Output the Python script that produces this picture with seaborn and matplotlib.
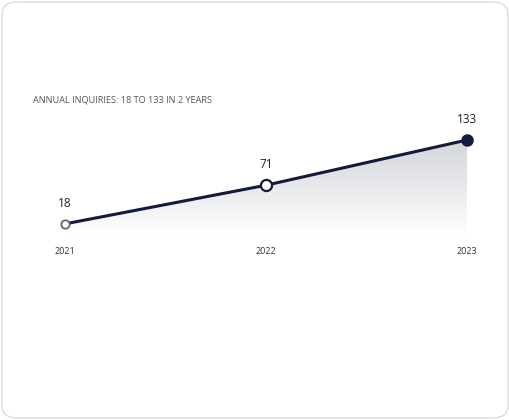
import numpy as np
import pandas as pd
import matplotlib
matplotlib.use("Agg")
import matplotlib.pyplot as plt
import seaborn as sns
from matplotlib.patches import FancyBboxPatch, Polygon
from matplotlib.colors import LinearSegmentedColormap

years = ["2021", "2022", "2023"]
inquiries = [18, 71, 133]
title = "ANNUAL INQUIRIES: 18 TO 133 IN 2 YEARS"

NAVY = "#141a3a"

sns.set_theme(style="white")
plt.rcParams["font.family"] = ["Open Sans", "DejaVu Sans"]

fig = plt.figure(figsize=(5.1, 4.2), dpi=100)
card = FancyBboxPatch((2 / 510, 2 / 420), 506 / 510, 416 / 420,
                      boxstyle="round,pad=0,rounding_size=0.03",
                      transform=fig.transFigure, facecolor="white",
                      edgecolor="#dcdcdc", linewidth=1, zorder=-10)
fig.patches.append(card)

ax = fig.add_axes([65 / 510, 183 / 420, 402 / 510, 97 / 420])
ax.patch.set_alpha(0)

df = pd.DataFrame({"x": range(len(years)), "y": inquiries})

# gradient fill below the line
cmap = LinearSegmentedColormap.from_list("g", ["#ffffff", "#d4d5da"])
grad = np.linspace(0, 1, 256).reshape(-1, 1)
img = ax.imshow(grad, cmap=cmap, origin="lower", aspect="auto",
                extent=[0, 2, 0, 133], zorder=1)
poly = Polygon(list(zip(df["x"], df["y"])) + [(2, 0), (0, 0)],
               closed=True, transform=ax.transData, facecolor="none", edgecolor="none")
ax.add_patch(poly)
img.set_clip_path(poly)

sns.lineplot(data=df, x="x", y="y", ax=ax, color=NAVY, linewidth=2.2, zorder=3)
ax.set_xlim(0, 2)
ax.set_ylim(0, 133)
ax.axis("off")

ax.plot(0, inquiries[0], "o", ms=6, mfc="white", mec="#666666", mew=1.3, zorder=4, clip_on=False)
ax.plot(1, inquiries[1], "o", ms=8, mfc="white", mec=NAVY, mew=1.6, zorder=4, clip_on=False)
ax.plot(2, inquiries[2], "o", ms=8, mfc=NAVY, mec=NAVY, zorder=4, clip_on=False)

for i, (yr, v) in enumerate(zip(years, inquiries)):
    ax.annotate(str(v), (i, v), xytext=(0, 10), textcoords="offset points",
                ha="center", va="bottom", fontsize=8.5, color="#222222")
    ax.annotate(yr, (i, 0), xytext=(0, -7), textcoords="offset points",
                ha="center", va="top", fontsize=6.5, color="#333333")

fig.text(33 / 510, 1 - 100 / 420, title, ha="left", va="center",
         fontsize=6.6, color="#555555")

fig.savefig("out.png", dpi=100)
